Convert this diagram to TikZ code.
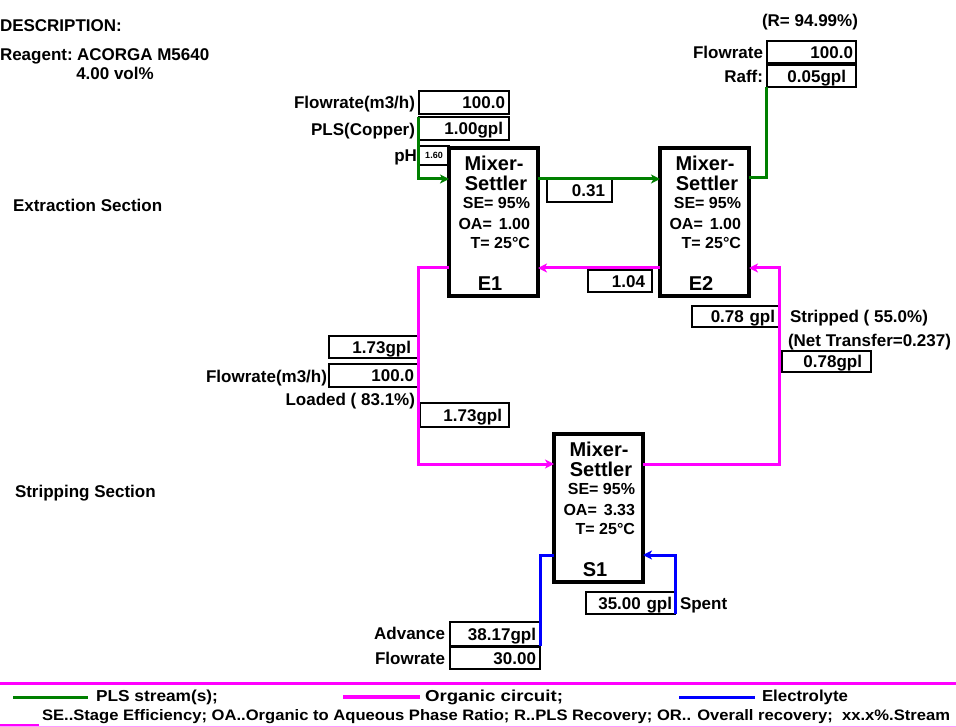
\documentclass[tikz,border=0pt]{standalone}
\usepackage{fontspec}
\setmainfont{Liberation Sans}
\usetikzlibrary{arrows.meta,calc}
\definecolor{plsg}{RGB}{0,128,0}
\definecolor{orgm}{RGB}{255,0,255}
\definecolor{elb}{RGB}{0,0,255}
\newcommand{\mixtext}[3]{%
  \node[mixbig] (#1m1) at ($(#1.north west)+(45,15)$) {Mixer-};
  \node[mixbig] (#1m2) at ($(#1.north west)+(47,35)$) {Settler};
  \node[mixsmall] (#1m3) at ($(#1.north east)+(-8,55)$) {SE= 95\%};
  \node[mixsmall] (#1m4) at ($(#1.north east)+(-8,76)$) {OA=\hspace{7pt}#2};
  \node[mixsmall] (#1m5) at ($(#1.north east)+(-8,95)$) {T= 25°C};
  \node[mixbig] (#1m6) at ($(#1.north west)+(41,135)$) {#3};
}
\begin{document}
\begin{tikzpicture}[x=1pt,y=-1pt,
  every node/.style={inner sep=0pt, outer sep=0pt},
  lab/.style={font=\bfseries\fontsize{17}{19}\selectfont, text height=12.2pt, text depth=0pt},
  val/.style={lab, draw=black, line width=1.8pt, anchor=north west, align=right},
  mixbox/.style={draw=black, line width=3.4pt, anchor=north west, minimum width=89pt, minimum height=148pt},
  mixbig/.style={font=\bfseries\fontsize{20}{22}\selectfont, text height=14.3pt, text depth=0pt},
  mixsmall/.style={font=\bfseries\fontsize{16}{18}\selectfont, text height=11.5pt, text depth=0pt, anchor=east},
  pls/.style={draw=plsg, line width=3pt},
  org/.style={draw=orgm, line width=3pt},
  ele/.style={draw=elb, line width=3pt},
  arr/.style={-{Stealth[length=9pt,width=9pt,inset=2.5pt]}},
  leg/.style={font=\bfseries, anchor=west}
]
\useasboundingbox (0,0) rectangle (956,727);

% header texts
\node[lab, anchor=west] (desc) at (0,25) {DESCRIPTION:};
\node[lab, anchor=west] (reag) at (0,54) {Reagent:\hspace{-2pt} ACORGA M5640};
\node[lab] (vol) at (115,73) {4.00 vol\%};
\node[lab] (rec) at (810,20) {(R= 94.99\%)};
\node[lab, anchor=west] (exs) at (13,205) {Extraction Section};
\node[lab, anchor=west] (sts) at (15,491) {Stripping Section};

% mixer-settlers
\node[mixbox] (E1) at (449,148) {};
\node[mixbox] (E2) at (660,148) {};
\node[mixbox] (S1) at (554,434) {};
\mixtext{E1}{1.00}{E1}
\mixtext{E2}{1.00}{E2}
\mixtext{S1}{3.33}{S1}

% value boxes
\node[val, minimum height=22pt, inner xsep=3pt, text width=83pt] (frT) at (767,41) {100.0};
\node[val, minimum height=22pt, inner xsep=10pt, text width=69pt] (raff) at (767,65) {0.05gpl};
\node[val, minimum height=23pt, inner xsep=4pt, text width=82pt] (fr1) at (419,91) {100.0};
\node[val, minimum height=23pt, inner xsep=6pt, text width=78pt] (plsb) at (419,117) {1.00gpl};
\node[draw=black, line width=1.8pt, anchor=north west, minimum width=30pt, minimum height=19pt, font=\bfseries\fontsize{9}{9}\selectfont] (phb) at (419,146) {1.60};
\node[val, minimum height=23pt, inner xsep=7pt, text width=51pt] (b031) at (547,179) {0.31};
\node[val, minimum height=22pt, inner xsep=7pt, text width=50pt] (b104) at (588,270) {1.04};
\node[val, minimum height=21pt, inner xsep=5pt, text width=78pt] (b078a) at (692,306) {0.78 gpl};
\node[val, minimum height=21pt, inner xsep=9pt, text width=71pt] (b078b) at (782,351) {0.78gpl};
\node[val, minimum height=22pt, inner xsep=7pt, text width=75pt] (b173a) at (329,336) {1.73gpl};
\node[val, minimum height=23pt, inner xsep=4pt, text width=81pt] (fr2) at (329,364) {100.0};
\node[val, minimum height=24pt, inner xsep=7pt, text width=75pt] (b173b) at (420,403) {1.73gpl};
\node[val, minimum height=22pt, inner xsep=3pt, text width=83pt] (spent) at (586,592) {35.00 gpl};
\node[val, minimum height=24pt, inner xsep=4pt, text width=82pt] (adv) at (450,622) {38.17gpl};
\node[val, minimum height=22pt, inner xsep=4pt, text width=82pt] (fr3) at (450,647) {30.00};

% labels
\node[lab, anchor=east] (lfrT) at (763,52) {Flowrate};
\node[lab, anchor=east] (lraff) at (763,76) {Raff:};
\node[lab, anchor=east] (lfr1) at (415,102) {Flowrate(m3/h)};
\node[lab, anchor=east] (lpls) at (415,129) {PLS(Copper)};
\node[lab, anchor=east] (lph) at (417,155) {pH};
\node[lab, anchor=east] (lfr2) at (327,376) {Flowrate(m3/h)};
\node[lab, anchor=east] (lload) at (415,399) {Loaded ( 83.1\%)};
\node[lab, anchor=east] (ladv) at (445,633) {Advance};
\node[lab, anchor=east] (lfr3) at (445,658) {Flowrate};
\node[lab, anchor=west] (lstr) at (790,316) {Stripped ( 55.0\%)};
\node[lab, anchor=west] (lnet) at (788,340) {(Net Transfer=0.237)};
\node[lab, anchor=west] (lspent) at (680,603) {Spent};

% coordinates on the boxes
\coordinate (E1pin) at ($(E1.north west)+(0,31)$);
\coordinate (E1pout) at ($(E1.north east)+(0,31)$);
\coordinate (E2pin) at ($(E2.north west)+(0,31)$);
\coordinate (E2pout) at ($(E2.north east)+(0,30)$);
\coordinate (E2oin) at ($(E2.north east)+(0,120)$);
\coordinate (E2oout) at ($(E2.north west)+(0,120)$);
\coordinate (E1oin) at ($(E1.north east)+(0,120)$);
\coordinate (E1oout) at ($(E1.north west)+(0,120)$);
\coordinate (S1oin) at ($(S1.north west)+(0,30)$);
\coordinate (S1oout) at ($(S1.north east)+(0,30)$);
\coordinate (S1ein) at ($(S1.north east)+(0,121)$);
\coordinate (S1eout) at ($(S1.north west)+(0,121)$);

% PLS streams
\draw[pls, arr] ([xshift=-1pt]plsb.north west) |- (E1pin);
\draw[pls, arr] (E1pout) -- (E2pin);
\draw[pls] (E2pout) -| ([xshift=-1pt]raff.south west);

% organic circuit
\draw[org, arr] (E2oout) -- (E1oin);
\draw[org, arr] (S1oout) -| ([xshift=30pt]E2oin) -- (E2oin);
\draw[org, arr] (E1oout) -- ([xshift=-31pt]E1oout) |- (S1oin);

% electrolyte
\draw[ele, arr] (spent.south east) |- (S1ein);
\draw[ele] (S1eout) -| (adv.south east);

% legend
\draw[orgm, line width=3pt] (0,683) -- (956,683);
\draw[plsg, line width=3pt] (13,697) -- (88,697);
\draw[orgm, line width=3.6pt] (343,697) -- (420,697);
\draw[elb, line width=3pt] (679,697) -- (755,697);
\draw[orgm!40, line width=1pt] (0,726) -- (956,726);
\draw[orgm, line width=2.6pt] (0,725) -- (39,725);
\node[leg] (lg1) at (96,697) {\resizebox{122pt}{11.5pt}{PLS stream(s);}};
\node[leg] (lg2) at (425,697) {\resizebox{138pt}{11.5pt}{Organic circuit;}};
\node[leg] (lg3) at (762,697) {\resizebox{86pt}{11.5pt}{Electrolyte}};
\node[leg] (lg4) at (42,717) {\resizebox{908pt}{11pt}{SE..Stage Efficiency; OA..Organic to Aqueous Phase Ratio; R..PLS Recovery; OR.. Overall recovery;\ \ xx.x\%.Stream}};
\end{tikzpicture}
\end{document}
